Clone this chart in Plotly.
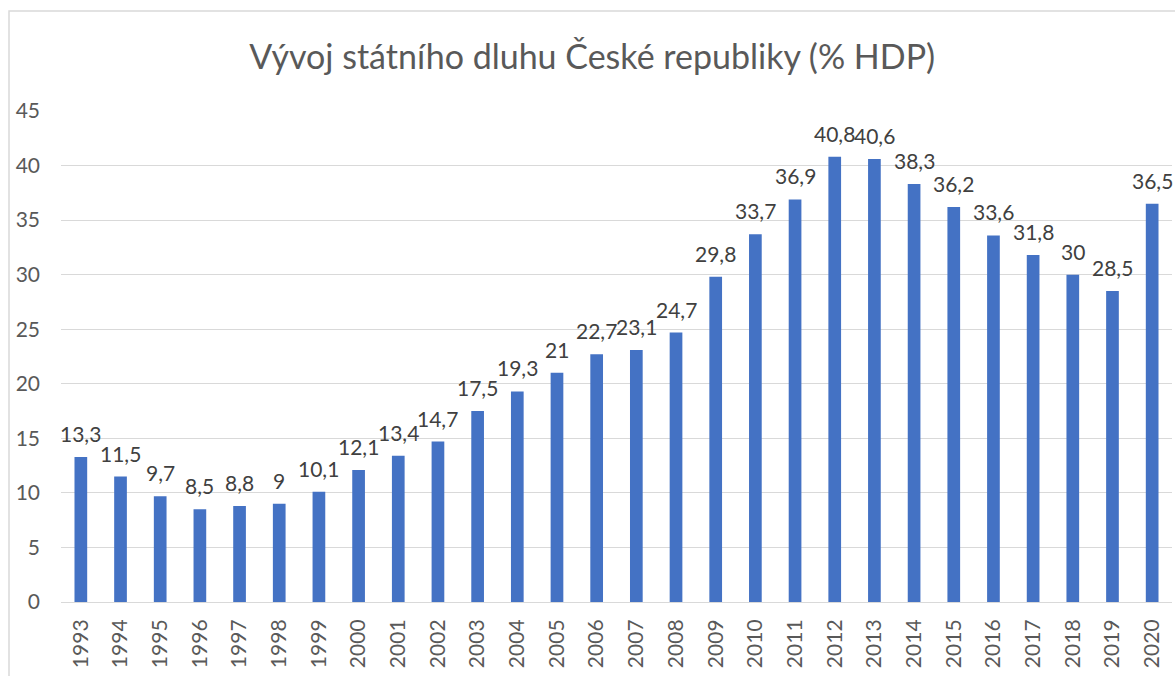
import plotly.graph_objects as go

years = [str(y) for y in range(1993, 2021)]
debt = [13.3, 11.5, 9.7, 8.5, 8.8, 9, 10.1, 12.1, 13.4, 14.7, 17.5, 19.3, 21, 22.7,
        23.1, 24.7, 29.8, 33.7, 36.9, 40.8, 40.6, 38.3, 36.2, 33.6, 31.8, 30, 28.5, 36.5]
y_ticks = [0, 5, 10, 15, 20, 25, 30, 35, 40, 45]

def fmt(v):
    s = ("%g" % v)
    return s.replace(".", ",")

FONT = "Lato"

fig = go.Figure()
fig.add_trace(go.Bar(x=years, y=debt, marker=dict(color="#4472C4", line=dict(width=0)),
                     hoverinfo="x+y"))

for i, v in enumerate(debt):
    fig.add_annotation(x=i, y=v, text=fmt(v), showarrow=False, yanchor="bottom",
                       yshift=9, font=dict(family=FONT, size=21, color="#404040"))

fig.update_layout(
    width=1175, height=676,
    margin=dict(l=61, r=3, t=111, b=74),
    paper_bgcolor="white", plot_bgcolor="white",
    bargap=0.68,
    showlegend=False,
    title=dict(text="Vývoj státního dluhu České republiky (% HDP)",
               x=0.504, xanchor="center", y=0.916, yanchor="middle",
               font=dict(family=FONT, size=34, color="#595959")),
    xaxis=dict(type="category", range=[-0.5, len(years) - 0.5], tickangle=-90,
               showgrid=False, showline=True, linecolor="#d9d9d9", linewidth=1,
               ticks="", ticklabelstandoff=8,
               tickfont=dict(family=FONT, size=21, color="#595959")),
    yaxis=dict(range=[0, 45], tickvals=y_ticks, showgrid=True, gridcolor="#d9d9d9",
               gridwidth=1, zeroline=False, showline=False, ticks="",
               ticklabelstandoff=20,
               tickfont=dict(family=FONT, size=21, color="#595959")),
    shapes=[dict(type="rect", xref="paper", yref="paper",
                 x0=-0.0468, x1=1.05, y0=-0.3, y1=1.2037,
                 line=dict(color="#d9d9d9", width=1.5), layer="below")],
)

fig.write_html("out.html",
               config={"displayModeBar": False},
               post_script="document.body.style.margin='0';"
                           "document.body.style.overflow='hidden';")
